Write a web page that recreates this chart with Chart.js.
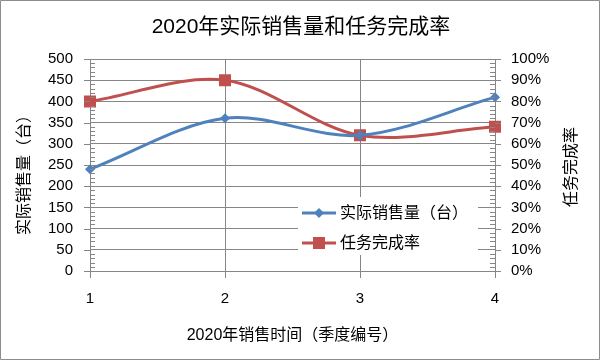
<!DOCTYPE html>
<html><head><meta charset="utf-8">
<script src="https://cdn.jsdelivr.net/npm/chart.js@4"></script>
<style>html,body{margin:0;padding:0;background:#fff}#wrap{width:602px;height:362px;position:relative}</style>
</head><body><div id="wrap"><canvas id="c"></canvas></div>
<script>
const quarters = ['1', '2', '3', '4'];
const sales = [240, 360, 320, 410];
const rate = [0.80, 0.90, 0.64, 0.68];
const salesTicks = [0, 500, 50];
const rateTicks = [0, 1, 0.1];
const seriesNames = ['实际销售量（台）', '任务完成率'];
const chartTitle = '2020年实际销售量和任务完成率';
const xTitle = '2020年销售时间（季度编号）';
const yTitle = '实际销售量（台）';
const y1Title = '任务完成率';

const FONT = "'Liberation Sans', 'Noto Sans CJK SC', sans-serif";
const GRID = '#868686';
const BLUE = '#4F81BD', RED = '#C0504D';

const decor = {
  id: 'decor',
  beforeDraw(chart) {
    const ctx = chart.ctx;
    ctx.save();
    ctx.fillStyle = '#fff';
    ctx.fillRect(0, 0, chart.width, chart.height);
    ctx.restore();
  },
  afterDraw(chart) {
    const ctx = chart.ctx;
    const y = chart.scales.y, y1 = chart.scales.y1, x = chart.scales.x;
    ctx.save();
    ctx.strokeStyle = GRID; ctx.lineWidth = 1;
    ctx.beginPath();
    for (let v = salesTicks[0]; v <= salesTicks[1] + 1e-9; v += 10) {
      const p = Math.round(y.getPixelForValue(v)) + 0.5;
      if (Math.round(v) % 50 === 0) { ctx.moveTo(y.right - 6, p); ctx.lineTo(y.right, p); }
      else { ctx.moveTo(y.right, p); ctx.lineTo(y.right + 5, p); }
    }
    for (let i = 0; i <= 50; i++) {
      const v = i * 0.02;
      const p = Math.round(y1.getPixelForValue(v)) + 0.5;
      if (i % 5 === 0) { ctx.moveTo(y1.left, p); ctx.lineTo(y1.left + 6, p); }
      else { ctx.moveTo(y1.left - 5, p); ctx.lineTo(y1.left, p); }
    }
    for (let i = 0; i < quarters.length; i++) {
      const p = Math.round(x.getPixelForValue(i)) + 0.5;
      ctx.moveTo(p, x.top); ctx.lineTo(p, x.top + 7);
    }
    ctx.stroke();
    ctx.strokeStyle = '#8c8c8c';
    ctx.beginPath();
    ctx.rect(0.5, 0.5, 599, 359);
    ctx.stroke();
    ctx.fillStyle = '#000';
    ctx.font = '16px ' + FONT;
    ctx.textAlign = 'center'; ctx.textBaseline = 'middle';
    ctx.save();
    ctx.translate(572, 167); ctx.rotate(-Math.PI / 2);
    ctx.fillText(y1Title, 0, 0);
    ctx.restore();
    ctx.save();
    ctx.translate(25, 171); ctx.rotate(-Math.PI / 2);
    ctx.fillText(yTitle, 0, 0);
    ctx.restore();
    ctx.restore();
    ctx.save();
    ctx.fillStyle = '#fff';
    ctx.fillRect(298, 197, 180, 58);
    const rows = [[213, BLUE, 'diamond', seriesNames[0]], [243, RED, 'square', seriesNames[1]]];
    rows.forEach(r => {
      const [yy, col, shape, txt] = r;
      ctx.strokeStyle = col; ctx.lineWidth = 3;
      ctx.beginPath(); ctx.moveTo(302, yy); ctx.lineTo(336, yy); ctx.stroke();
      ctx.fillStyle = col;
      ctx.beginPath();
      if (shape === 'diamond') {
        ctx.moveTo(319, yy - 5); ctx.lineTo(324, yy); ctx.lineTo(319, yy + 5); ctx.lineTo(314, yy); ctx.closePath();
      } else {
        ctx.rect(313, yy - 6, 12, 12);
      }
      ctx.fill();
      ctx.fillStyle = '#000';
      ctx.font = '16px ' + FONT;
      ctx.textAlign = 'left'; ctx.textBaseline = 'middle';
      ctx.fillText(txt, 340, yy + 1);
    });
    ctx.restore();
  }
};

new Chart(document.getElementById('c'), {
  type: 'line',
  data: {
    labels: quarters,
    datasets: [
      { label: seriesNames[0], data: sales, yAxisID: 'y', borderColor: BLUE, backgroundColor: BLUE,
        borderWidth: 3, tension: 0.33, pointStyle: 'rectRot', pointRadius: 5, pointBorderWidth: 0, fill: false },
      { label: seriesNames[1], data: rate, yAxisID: 'y1', borderColor: RED, backgroundColor: RED,
        borderWidth: 3, tension: 0.33, pointStyle: 'rect', pointRadius: 8.5, pointBorderWidth: 0, fill: false }
    ]
  },
  options: {
    responsive: true, maintainAspectRatio: false, animation: false,
    layout: { padding: { left: 0, right: 0, top: 0, bottom: 0 } },
    plugins: {
      legend: { display: false },
      tooltip: { enabled: false },
      title: { display: true, text: chartTitle, color: '#000',
        font: { family: FONT, size: 21, weight: 'normal', lineHeight: 1.2 },
        padding: { top: 14.5, bottom: 19.3 } }
    },
    scales: {
      x: {
        offset: false,
        grid: { color: GRID, drawTicks: false },
        border: { color: GRID },
        ticks: { color: '#000', font: { family: FONT, size: 15 }, padding: 19, maxRotation: 0 },
        title: { display: true, text: xTitle, color: '#000', font: { family: FONT, size: 16 }, padding: { top: 0, bottom: 16.4 } },
        afterFit(s) { s.height = 91; }
      },
      y: {
        position: 'left', min: salesTicks[0], max: salesTicks[1],
        ticks: { stepSize: salesTicks[2], color: '#000', font: { family: FONT, size: 15 }, padding: 17 },
        grid: { color: GRID, drawTicks: false },
        border: { color: GRID },
        afterFit(s) { s.width = 90; }
      },
      y1: {
        position: 'right', min: rateTicks[0], max: rateTicks[1],
        ticks: { stepSize: rateTicks[2], color: '#000', font: { family: FONT, size: 15 }, padding: 16,
          callback: v => Math.round(v * 100) + '%' },
        grid: { drawOnChartArea: false, drawTicks: false },
        border: { color: GRID },
        afterFit(s) { s.width = 107; }
      }
    }
  },
  plugins: [decor]
});
</script>
</body></html>
